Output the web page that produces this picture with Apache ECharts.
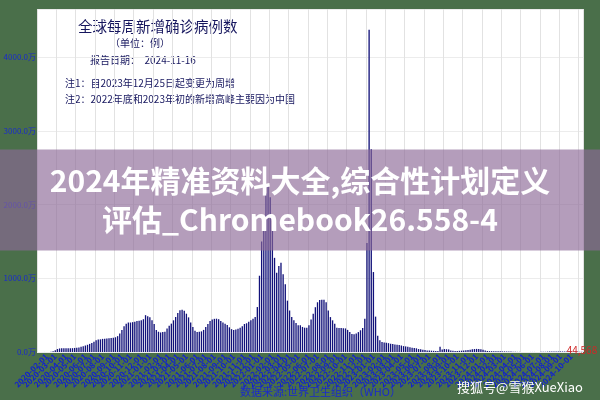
<!DOCTYPE html>
<html><head><meta charset="utf-8">
<script src="https://cdn.jsdelivr.net/npm/echarts@6/dist/echarts.min.js"></script>
<style>html,body{margin:0;padding:0;background:#4a6f4a}#c{width:600px;height:400px}</style>
</head><body><div id="c"></div>
<script>
// Weekly new confirmed cases worldwide, unit: 万 (10,000 cases), first week 2020-01-05
const startDate = '2020-01-05';
const weeklyCases = [
  0, 0, 0, 0.5, 1, 1.5, 2, 10, 25, 40,
  48, 50, 50, 52, 52, 50, 52, 55, 58, 62,
  70, 78, 88, 98, 110, 122, 140, 158, 168, 172,
  178, 180, 183, 188, 190, 192, 200, 215, 250, 300,
  350, 385, 400, 400, 405, 410, 420, 425, 430, 445,
  500, 485, 470, 430, 380, 300, 275, 265, 270, 275,
  320, 355, 385, 430, 475, 530, 565, 573, 560, 520,
  470, 400, 340, 290, 272, 275, 280, 300, 340, 380,
  420, 440, 450, 452, 445, 420, 400, 385, 365, 335,
  310, 300, 305, 315, 330, 350, 380, 390, 410, 430,
  450, 475, 610, 1035, 1500, 1850, 2150, 2250, 2100, 1650,
  1278, 1077, 1167, 1211, 1055, 920, 697, 563, 474, 430,
  393, 362, 362, 340, 330, 330, 362, 440, 518, 608,
  675, 705, 710, 710, 675, 563, 474, 430, 385, 330,
  325, 325, 322, 320, 300, 273, 245, 240, 250, 270,
  295, 326, 450, 1480, 4375, 2750, 1085, 480, 220, 160,
  135, 130, 125, 120, 112, 107, 102, 98, 94, 88,
  80, 76, 72, 65, 58, 54, 50, 40, 36, 30,
  27, 22, 20, 18, 16, 14, 13, 72, 35, 40,
  38, 35, 22, 16, 15, 15, 16, 18, 22, 25,
  28, 32, 38, 40, 42, 40, 36, 30, 20, 14,
  12, 11, 10, 10, 9, 9, 8, 8, 7, 7,
  6, 5, 3, 2, 2, 1.5, 1.5, 1, 1, 1,
  1, 1, 1, 1.5, 2, 2, 3, 5, 6, 6,
  7, 7, 8, 8, 7, 7, 6, 6, 6, 5,
  5, 5, 5, 4.4568
];
const yTickValues = [0, 1000, 2000, 3000, 4000];
const titleLines = ['全球每周新增确诊病例数', '（单位：例）', '报告日期：  2024-11-16'];
const noteLines = ['注1：自2023年12月25日起变更为周增', '注2：2022年底和2023年初的新增高峰主要因为中国'];
const overlayLines = ['2024年精准资料大全,综合性计划定义', '评估_Chromebook26.558-4'];
const sourceText = '数据来源:世界卫生组织（WHO）';
const watermark = '搜狐号@雪猴XueXiao';

// weekly category dates
const weeks = [];
{
  const d0 = new Date(startDate + 'T00:00:00Z');
  for (let i = 0; i < weeklyCases.length; i++) {
    const d = new Date(d0.getTime() + i * 7 * 86400000);
    weeks.push(d.toISOString().slice(0, 10));
  }
}
const monthOf = s => s.slice(0, 7);
const isMonthStart = i => i === 0 || monthOf(weeks[i]) !== monthOf(weeks[i - 1]);
const lastIdx = weeklyCases.length - 1;

const chart = echarts.init(document.getElementById('c'), null, {renderer: 'canvas'});
const F = '"Noto Sans CJK SC", "Noto Sans", sans-serif';
const navy = '#16165e';

chart.setOption({
  backgroundColor: '#4a6f4a',
  animation: false,
  grid: {left: 37, right: 17, top: 9, bottom: 48, show: true, backgroundColor: '#ffffff', borderWidth: 0,
         containLabel: false, outerBoundsMode: 'none'},
  xAxis: {
    type: 'category',
    data: weeks,
    boundaryGap: true,
    axisLine: {show: false},
    axisTick: {show: false},
    axisLabel: {
      interval: (i) => isMonthStart(i),
      rotate: 45,
      fontSize: 8,
      fontWeight: 'bold',
      color: '#1020d0',
      fontFamily: F,
      margin: 3,
      formatter: v => v.slice(0, 7) + '-01'
    },
    splitLine: {show: true, interval: (i) => i % 9 === 0, lineStyle: {color: '#e2e2e2', width: 1}}
  },
  yAxis: {
    type: 'value',
    min: 0, max: 4655, interval: 1000,
    axisLine: {show: false},
    axisTick: {show: false},
    axisLabel: {
      showMaxLabel: false,
      fontSize: 8, color: '#1a2acc', fontFamily: F, margin: 1,
      formatter: v => yTickValues.includes(v) ? v.toFixed(1) + '万' : ''
    },
    splitLine: {show: true, lineStyle: {color: '#ececec', width: 1}}
  },
  series: [{
    type: 'bar',
    data: weeklyCases,
    barWidth: '62%',
    itemStyle: {color: '#12127a'},
    label: {
      show: true, position: 'top', distance: -4,
      color: '#d02828', fontSize: 10, fontFamily: F,
      formatter: p => p.dataIndex === lastIdx ? Math.round(p.value * 10000).toLocaleString('en-US') : ''
    }
  }],
  graphic: [
    {type: 'text', left: 78, top: 19, style: {text: titleLines[0], font: '14.5px ' + F, fill: navy}},
    {type: 'text', left: 110, top: 38, style: {text: titleLines[1], font: '10px ' + F, fill: navy}},
    {type: 'text', left: 90, top: 55, style: {text: titleLines[2], font: '10px ' + F, fill: navy}},
    {type: 'text', left: 65, top: 78, style: {text: noteLines[0], font: '10px ' + F, fill: navy}},
    {type: 'text', left: 65, top: 94, style: {text: noteLines[1], font: '10px ' + F, fill: navy}},
    {type: 'text', left: 240, top: 386, style: {text: sourceText, font: '11px ' + F, fill: '#1a2acc'}, z: 10},
    {type: 'rect', shape: {x: 0, y: 149.5, width: 600, height: 101}, style: {fill: 'rgba(140,105,150,0.65)'}, z: 100},
    {type: 'text', x: 300, y: 181, style: {text: overlayLines[0], font: 'bold 30px ' + F, fill: '#ffffff', textAlign: 'center', textVerticalAlign: 'middle'}, z: 101},
    {type: 'text', x: 300, y: 220, style: {text: overlayLines[1], font: 'bold 30px ' + F, fill: '#ffffff', textAlign: 'center', textVerticalAlign: 'middle'}, z: 101},
    {type: 'text', right: 17, top: 381, style: {text: watermark, font: '13px ' + F, fill: '#ffffff'}, z: 101}
  ]
});
</script></body></html>
